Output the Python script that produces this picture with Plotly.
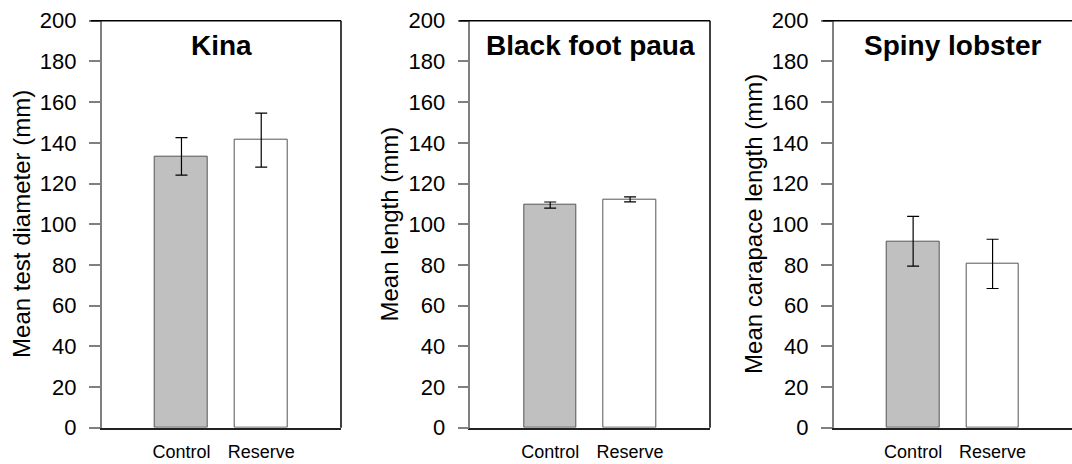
import plotly.graph_objects as go

# Mean sizes (mm) with error bars, Control vs Reserve sites
categories = ["Control", "Reserve"]
species = ["Kina", "Black foot paua", "Spiny lobster"]
y_titles = ["Mean test diameter (mm)", "Mean length (mm)", "Mean carapace length (mm)"]

kina_mean = [133.3, 141.3]
kina_err = [9.2, 13.3]
paua_mean = [109.4, 112.2]
paua_err = [1.5, 1.2]
lobster_mean = [91.6, 80.5]
lobster_err = [12.2, 12.1]

y_ticks = [0, 20, 40, 60, 80, 100, 120, 140, 160, 180, 200]

means = [kina_mean, paua_mean, lobster_mean]
errs = [kina_err, paua_err, lobster_err]

W, H = 1072, 464
FONT = "Liberation Sans, Arial, sans-serif"
bar_fill = ["#c0c0c0", "#ffffff"]

# Panel geometry in pixels (left edge of plot area, right edge)
panel_px = [(101.7, 341.0), (470.3, 710.0), (833.7, 1072.0)]
top_px, bot_px = 20.7, 427.7
y_dom = [1 - bot_px / H, 1 - top_px / H]

fig = go.Figure()
shapes = []
annotations = []

for i in range(3):
    n = "" if i == 0 else str(i + 1)
    x0, x1 = panel_px[i]
    dom = [x0 / W, min(x1 / W, 1.0)]
    fig.add_trace(go.Bar(
        x=[1, 2], y=means[i],
        width=0.66,
        marker=dict(color=bar_fill, line=dict(color="#555555", width=1)),
        error_y=dict(type="data", array=errs[i], visible=True,
                     color="#000000", thickness=1.2, width=6),
        xaxis="x" + n, yaxis="y" + n, showlegend=False,
    ))
    fig.layout["xaxis" + n] = dict(
        domain=dom, range=[0, 3], anchor="y" + n, automargin=False,
        tickmode="array", tickvals=[1, 2], ticktext=categories,
        ticks="", ticklabelstandoff=7, showgrid=False, zeroline=False,
        showline=True, linecolor="#222222", linewidth=2,
        tickfont=dict(family=FONT, size=18, color="#000000"),
        fixedrange=True,
    )
    fig.layout["yaxis" + n] = dict(
        domain=y_dom, range=[0, 200], anchor="x" + n, automargin=False,
        tickmode="array", tickvals=y_ticks,
        ticks="outside", ticklen=11, tickwidth=1.5, tickcolor="#808080",
        ticklabelstandoff=8,
        showgrid=False, zeroline=False,
        showline=True, linecolor="#808080", linewidth=1.5,
        tickfont=dict(family=FONT, size=22, color="#000000"),
        fixedrange=True,
    )
    # top border of the frame, extending over the top tick
    shapes.append(dict(type="line", xref="paper", yref="paper",
                       x0=(x0 - 11) / W, x1=min(x1 / W, 1.0),
                       y0=y_dom[1], y1=y_dom[1],
                       line=dict(color="#000000", width=1.5)))
    # right border of the frame
    if x1 < W:
        shapes.append(dict(type="line", xref="paper", yref="paper",
                           x0=x1 / W, x1=x1 / W, y0=y_dom[0], y1=y_dom[1],
                           line=dict(color="#000000", width=1.5)))
    # species name inside the panel
    annotations.append(dict(
        text="<b>" + species[i] + "</b>", xref="paper", yref="paper",
        x=(x0 + x1) / 2 / W, y=1 - 45.5 / H, xanchor="center", yanchor="middle",
        showarrow=False, font=dict(family=FONT, size=28, color="#000000"),
    ))
    # y-axis title
    annotations.append(dict(
        text=y_titles[i], xref="paper", yref="paper",
        x=(x0 - 81) / W, y=1 - (top_px + bot_px) / 2 / H,
        xanchor="center", yanchor="middle", textangle=-90,
        showarrow=False, font=dict(family=FONT, size=24, color="#000000"),
    ))

fig.update_layout(
    width=W, height=H,
    margin=dict(l=0, r=0, t=0, b=0),
    paper_bgcolor="#ffffff", plot_bgcolor="#ffffff",
    shapes=shapes, annotations=annotations,
    bargap=0,
)

fig.write_html("out.html", config={"displayModeBar": False})
